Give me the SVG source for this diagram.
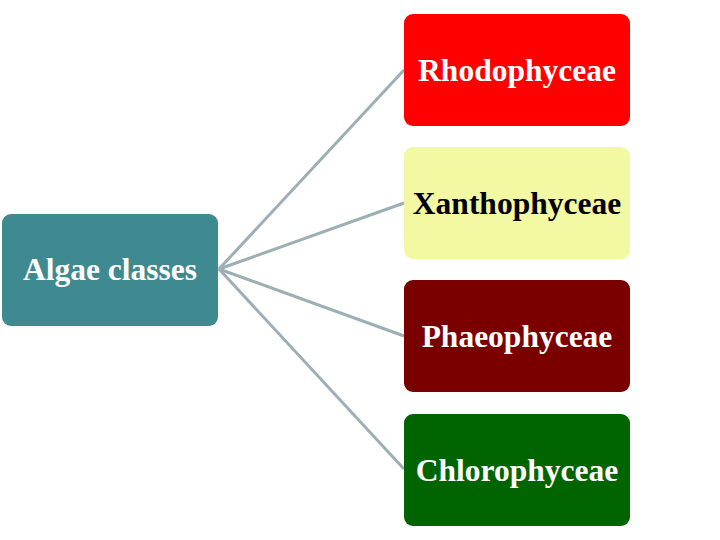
<svg xmlns="http://www.w3.org/2000/svg" width="720" height="540" viewBox="0 0 720 540">
<style>
.box{stroke:none}
.lbl{font-family:"Liberation Serif","Times New Roman",serif;font-weight:bold;font-size:31.5px;text-anchor:middle;fill:#ffffff}
.conn{stroke:#9BAFB4;stroke-width:3;fill:none}
</style>
<rect width="720" height="540" fill="#ffffff"/>
<g id="connectors">
<line class="conn" x1="219" y1="269" x2="404" y2="70"/>
<line class="conn" x1="219" y1="269" x2="404" y2="203"/>
<line class="conn" x1="219" y1="269" x2="404" y2="336"/>
<line class="conn" x1="219" y1="269" x2="404" y2="469"/>
</g>
<g id="algae">
<rect class="box" x="2" y="214" width="216" height="112" rx="9" fill="#3E8A90"/>
<text class="lbl" x="110" y="280">Algae classes</text>
</g>
<g id="rhodophyceae">
<rect class="box" x="404" y="14" width="226" height="112" rx="9" fill="#FF0000"/>
<text class="lbl" x="517" y="81">Rhodophyceae</text>
</g>
<g id="xanthophyceae">
<rect class="box" x="404" y="147" width="226" height="112" rx="9" fill="#F3F8A3"/>
<text class="lbl" x="517" y="214" fill="#000000" style="fill:#000000">Xanthophyceae</text>
</g>
<g id="phaeophyceae">
<rect class="box" x="404" y="280" width="226" height="112" rx="9" fill="#7A0000"/>
<text class="lbl" x="517" y="347">Phaeophyceae</text>
</g>
<g id="chlorophyceae">
<rect class="box" x="404" y="414" width="226" height="112" rx="9" fill="#006400"/>
<text class="lbl" x="517" y="481">Chlorophyceae</text>
</g>
</svg>
